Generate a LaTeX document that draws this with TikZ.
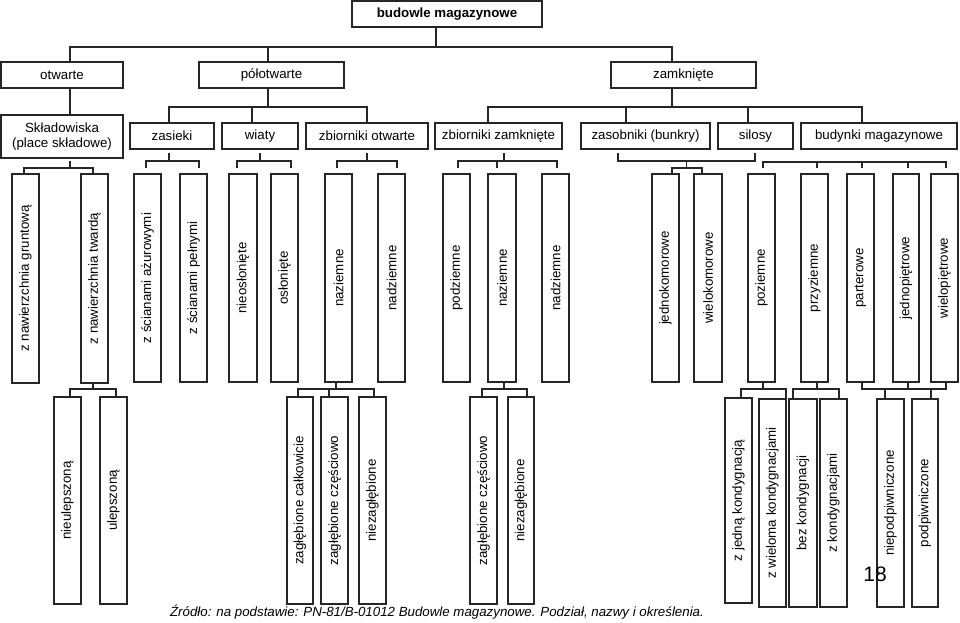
\documentclass[tikz,border=0pt]{standalone}
\usepackage{fontspec}
\setmainfont{Liberation Sans}
\usepackage{graphicx}
\usetikzlibrary{calc}
\newcommand\bx[6]{\node[box, minimum width={(#4-#2)*1pt}, minimum height={(#5-#3)*1pt}] (#1) at ({(#2+#4)/2},{(#3+#5)/2}) {#6};}
\newcommand\bxv[6]{\node[box, minimum width={(#4-#2)*1pt}, minimum height={(#5-#3)*1pt}] (#1) at ({(#2+#4)/2},{(#3+#5)/2}) {\rotatebox{90}{#6}};}
\begin{document}
\begin{tikzpicture}[x=1pt, y=-1pt,
  every node/.style={font=\fontsize{13.3}{15.5}\selectfont},
  box/.style={draw=black!85, line width=1.1pt, inner sep=0pt, outer sep=0pt, align=center},
  conn/.style={draw=black!85, line width=1.1pt}]
\useasboundingbox (0,0) rectangle (960,622);
% level 0
\bx{root}{352}{1}{542}{27}{\textbf{budowle magazynowe}}
% level 1
\bx{otw}{1}{62}{123}{88}{otwarte}
\bx{pol}{199}{62}{344}{88}{półotwarte}
\bx{zam}{611}{62}{756}{88}{zamknięte}
% level 2
\bx{skl}{1}{115}{123}{158}{Składowiska\\(place składowe)}
\bx{zas}{130}{123}{214}{149}{zasieki}
\bx{wia}{222}{123}{298}{149}{wiaty}
\bx{zbo}{306}{123}{428}{149}{zbiorniki otwarte}
\bx{zbz}{435}{123}{562}{149}{zbiorniki zamknięte}
\bx{zbu}{581}{123}{710}{149}{zasobniki (bunkry)}
\bx{sil}{718}{123}{793}{149}{silosy}
\bx{bud}{801}{123}{957}{149}{budynki magazynowe}
% level 3
\bxv{a1}{12}{174}{39}{383}{z nawierzchnia gruntową}
\bxv{a2}{81}{174}{108}{383}{z nawierzchnia twardą}
\bxv{b1}{134}{174}{161}{382}{z ścianami ażurowymi}
\bxv{b2}{180}{174}{207}{382}{z ścianami pełnymi}
\bxv{c1}{229}{174}{257}{382}{nieosłonięte}
\bxv{c2}{271}{174}{298}{382}{osłonięte}
\bxv{d1}{325}{174}{352}{382}{naziemne}
\bxv{d2}{378}{174}{405}{382}{nadziemne}
\bxv{e1}{443}{174}{470}{382}{podziemne}
\bxv{e2}{488}{174}{516}{382}{naziemne}
\bxv{e3}{542}{174}{569}{382}{nadziemne}
\bxv{f1}{652}{174}{679}{382}{jednokomorowe}
\bxv{f2}{694}{174}{722}{382}{wielokomorowe}
\bxv{g1}{748}{174}{775}{382}{poziemne}
\bxv{g2}{801}{174}{828}{382}{przyziemne}
\bxv{g3}{847}{174}{874}{382}{parterowe}
\bxv{g4}{893}{174}{919}{382}{jednopiętrowe}
\bxv{g5}{931}{174}{958}{382}{wielopiętrowe}
% level 4
\bxv{h1}{54}{397}{81}{604}{nieulepszoną}
\bxv{h2}{100}{397}{127}{604}{ulepszoną}
\bxv{i1}{287}{397}{313}{604}{zagłębione całkowicie}
\bxv{i2}{321}{397}{348}{604}{zagłębione częściowo}
\bxv{i3}{359}{397}{386}{604}{niezagłębione}
\bxv{j1}{470}{397}{497}{604}{zagłębione częściowo}
\bxv{j2}{508}{397}{534}{604}{niezagłębione}
\bxv{k1}{725}{398}{752}{603}{z jedną kondygnacją}
\bxv{k2}{759}{399}{786}{607}{z wieloma kondygnacjami}
\bxv{k3}{789}{399}{817}{607}{bez kondygnacji}
\bxv{k4}{820}{399}{847}{607}{z kondygnacjami}
\bxv{l1}{877}{399}{904}{607}{niepodpiwniczone}
\bxv{l2}{912}{399}{938}{607}{podpiwniczone}
% texts
\node (pg) at (875,574) {\fontsize{21}{21}\selectfont 18};
\node (src) at (437,612) {\itshape Źródło: na podstawie: PN-81/B-01012 Budowle magazynowe. Podział, nazwy i określenia.};
% level 0 -> 1
\draw[conn] ($(root.south)+(-11,0)$) -- ($(root.south)+(-11,20)$);
\draw[conn] ($(otw.north)+(8,0)$) -- ($(otw.north)+(8,-15)$) -- ($(zam.north)+(-11.5,-15)$) -- ($(zam.north)+(-11.5,0)$);
\draw[conn] ($(pol.north)+(-3.5,0)$) -- ($(pol.north)+(-3.5,-15)$);
% level 1 -> 2
\draw[conn] ($(otw.south)+(8,0)$) -- ($(skl.north)+(8,0)$);
\draw[conn] ($(pol.south)+(-3.5,0)$) -- ($(pol.south)+(-3.5,19)$);
\draw[conn] ($(zas.north)+(-3,0)$) -- ($(zas.north)+(-3,-16)$) -- ($(zbo.north)+(0,-16)$) -- (zbo.north);
\draw[conn] ($(wia.north)+(-8,0)$) -- ($(wia.north)+(-8,-16)$);
\draw[conn] ($(zam.south)+(-11.5,0)$) -- ($(zam.south)+(-11.5,19)$);
\draw[conn] ($(zbz.north)+(-10.5,0)$) -- ($(zbz.north)+(-10.5,-16)$) -- ($(bud.north)+(-17,-16)$) -- ($(bud.north)+(-17,0)$);
\draw[conn] ($(zbu.north)+(-19.5,0)$) -- ($(zbu.north)+(-19.5,-16)$);
\draw[conn] ($(sil.north)+(-7.5,0)$) -- ($(sil.north)+(-7.5,-16)$);
% level 2 -> 3
\draw[conn] ($(skl.south)+(8,3)$) -- ($(skl.south)+(8,10)$);
\draw[conn] ($(a1.north)+(-1.5,0)$) -- ($(a1.north)+(-1.5,-6)$) -- ($(a2.north)+(-1.5,-6)$) -- ($(a2.north)+(-1.5,0)$);
\draw[conn] ($(zas.south)+(-3,4)$) -- ($(zas.south)+(-3,12)$);
\draw[conn] ($(b1.north)+(-1.5,-6)$) -- ($(b1.north)+(-1.5,-13)$) -- ($(b2.north)+(5.5,-13)$) -- ($(b2.north)+(5.5,-6)$);
\draw[conn] ($(wia.south)+(0,4)$) -- ($(wia.south)+(0,12)$);
\draw[conn] ($(c1.north)+(-6,-6)$) -- ($(c1.north)+(-6,-13)$) -- ($(c2.north)+(6.5,-13)$) -- ($(c2.north)+(6.5,-6)$);
\draw[conn] ($(zbo.south)+(0,4)$) -- ($(zbo.south)+(0,12)$);
\draw[conn] ($(d1.north)+(-1.5,-6)$) -- ($(d1.north)+(-1.5,-13)$) -- ($(d2.north)+(5.5,-13)$) -- ($(d2.north)+(5.5,-6)$);
\draw[conn] ($(zbz.south)+(5.5,4)$) -- ($(zbz.south)+(5.5,12)$);
\draw[conn] ($(e1.north)+(1.5,-6)$) -- ($(e1.north)+(1.5,-13)$) -- ($(e3.north)+(1.5,-13)$) -- ($(e3.north)+(1.5,-6)$);
\draw[conn] ($(e2.north)+(-5,-6)$) -- ($(e2.north)+(-5,-13)$);
\draw[conn] ($(zbu.south)+(-27.5,4)$) -- ($(zbu.south)+(-27.5,12)$) -- ($(sil.south)+(-0.5,12)$) -- ($(sil.south)+(-0.5,4)$);
\coordinate (fm) at ($(f1.north)!0.5!(f2.north)$);
\draw[conn] ($(fm)+(0,-13)$) -- ($(fm)+(0,-6)$);
\draw[conn] ($(f1.north)+(6.5,0)$) -- ($(f1.north)+(6.5,-6)$) -- ($(f2.north)+(-6,-6)$) -- ($(f2.north)+(-6,0)$);
\draw[conn] ($(g1.north)+(1.5,-6)$) -- ($(g1.north)+(1.5,-12)$) -- ($(g5.north)+(1.5,-12)$) -- ($(g5.north)+(1.5,-6)$);
\draw[conn] ($(g2.north)+(2.5,-6)$) -- ($(g2.north)+(2.5,-12)$);
\draw[conn] ($(g3.north)+(1.5,-6)$) -- ($(g3.north)+(1.5,-12)$);
\draw[conn] ($(g4.north)+(2,-6)$) -- ($(g4.north)+(2,-12)$);
% level 3 -> 4
\draw[conn] ($(a2.south)+(-1.5,0)$) -- ($(a2.south)+(-1.5,6)$);
\draw[conn] ($(h1.north)+(2.5,0)$) -- ($(h1.north)+(2.5,-8)$) -- ($(h2.north)+(2.5,-8)$) -- ($(h2.north)+(2.5,0)$);
\draw[conn] ($(d1.south)+(-2.5,0)$) -- ($(d1.south)+(-2.5,7)$);
\draw[conn] ($(i1.north)+(-2,0)$) -- ($(i1.north)+(-2,-8)$) -- ($(i3.north)+(1.5,-8)$) -- ($(i3.north)+(1.5,0)$);
\draw[conn] ($(i2.north)+(-5.5,0)$) -- ($(i2.north)+(-5.5,-8)$);
\draw[conn] ($(e2.south)+(2,0)$) -- ($(e2.south)+(2,7)$);
\draw[conn] ($(j1.north)+(-1.5,0)$) -- ($(j1.north)+(-1.5,-8)$) -- ($(j2.north)+(6,-8)$) -- ($(j2.north)+(6,0)$);
\draw[conn] ($(g1.south)+(1.5,0)$) -- ($(g1.south)+(1.5,7)$);
\draw[conn] ($(k1.north)+(2.5,0)$) -- ($(k1.north)+(2.5,-9)$) -- ($(k2.north)+(13.5,-10)$) -- ($(k2.north)+(13.5,0)$);
\draw[conn] ($(g2.south)+(2.5,0)$) -- ($(g2.south)+(2.5,7)$);
\draw[conn] ($(k3.north)+(-10,0)$) -- ($(k3.north)+(-10,-10)$) -- ($(k4.north)+(5.5,-10)$) -- ($(k4.north)+(5.5,0)$);
\draw[conn] ($(g3.south)+(1.5,0)$) -- ($(g3.south)+(1.5,7)$) -- ($(g5.south)+(1.5,7)$) -- ($(g5.south)+(1.5,0)$);
\draw[conn] ($(g4.south)+(2,0)$) -- ($(g4.south)+(2,7)$);
\draw[conn] ($(l1.north)+(-5.5,0)$) -- ($(l1.north)+(-5.5,-10)$);
\draw[conn] ($(l2.north)+(6,0)$) -- ($(l2.north)+(6,-10)$);
\end{tikzpicture}
\end{document}
